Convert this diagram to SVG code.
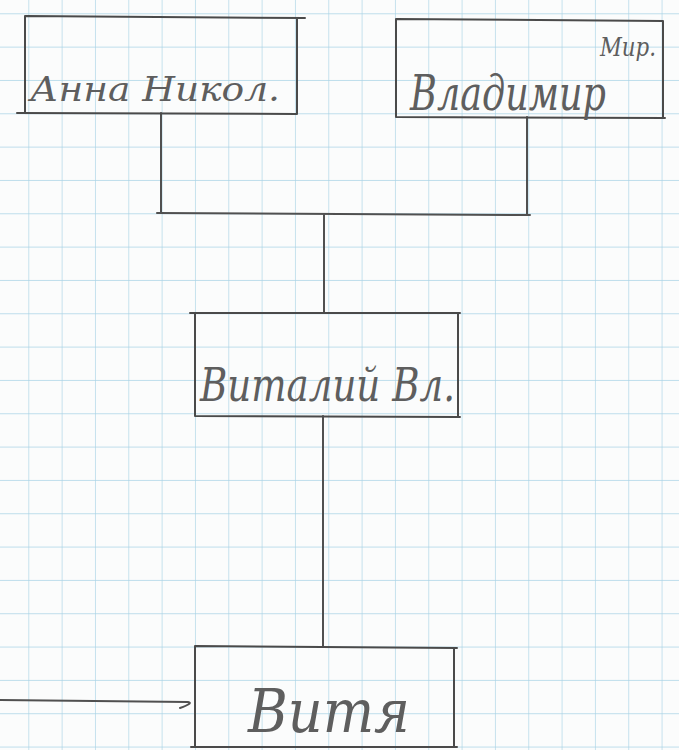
<svg xmlns="http://www.w3.org/2000/svg" width="679" height="750" viewBox="0 0 679 750">
<defs>
<pattern id="grid" x="28.3" y="13.3" width="33.33" height="33.33" patternUnits="userSpaceOnUse">
<path d="M0 0 H33.33 M0 0 V33.33" fill="none" stroke="#a9d3e6" stroke-width="1.3"/>
</pattern>
<style>
.box{fill:none;stroke:#4a4a4a;stroke-width:2;stroke-linecap:round}
.conn{fill:none;stroke:#505050;stroke-width:2;stroke-linecap:round}
.hw{font-family:"DejaVu Serif","Liberation Serif",serif;font-style:italic;fill:#5e5e5e}
</style>
</defs>
<rect width="679" height="750" fill="#fbfcfc"/>
<rect width="679" height="750" fill="url(#grid)"/>
<g id="connectors">
<path class="conn" d="M161 113 V213"/>
<path class="conn" d="M157 213 L530 215"/>
<path class="conn" d="M527 117 V215"/>
<path class="conn" d="M324 215 V313"/>
<path class="conn" d="M323 416 V646"/>
<path class="conn" d="M0 700 L188 702 Q194 703 180 708"/>
</g>
<g id="node-anna">
<path class="box" d="M25 16 L305 18 M25 16 V113 M17 113 L297 114 M297 18 V114"/>
<text class="hw" x="30" y="101" font-size="34" textLength="250" lengthAdjust="spacingAndGlyphs">Анна Никол.</text>
</g>
<g id="node-vladimir">
<path class="box" d="M396 19 L663 21 M396 19 V117 M396 117 L665 118 M663 21 V118"/>
<text class="hw" x="410" y="110" font-size="48" textLength="196" lengthAdjust="spacingAndGlyphs">Владимир</text>
<text class="hw" x="600" y="56" font-size="26" textLength="56" lengthAdjust="spacingAndGlyphs">Мир.</text>
</g>
<g id="node-vitaliy">
<path class="box" d="M190 313 L460 313 M195 313 V416 M195 416 L460 417 M458 313 V417"/>
<text class="hw" x="200" y="401" font-size="46" textLength="255" lengthAdjust="spacingAndGlyphs">Виталий Вл.</text>
</g>
<g id="node-vitya">
<path class="box" d="M195 646 L457 648 M195 646 V747 M191 747 L457 747 M454 648 V747"/>
<text class="hw" x="248" y="732" font-size="60" textLength="162" lengthAdjust="spacingAndGlyphs">Витя</text>
</g>
</svg>
